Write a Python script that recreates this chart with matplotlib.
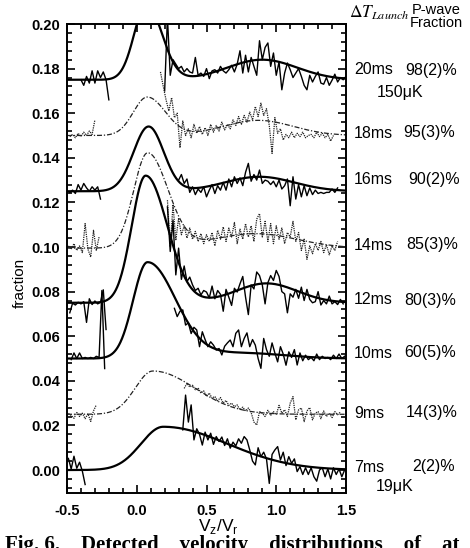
import numpy as np
import matplotlib
matplotlib.use('Agg')
import matplotlib.pyplot as plt
from matplotlib.ticker import MultipleLocator, FormatStrFormatter

# series order: top to bottom
launch = ['20ms', '18ms', '16ms', '14ms', '12ms', '10ms', '9ms', '7ms']
pwave = ['98(2)%', '95(3)%', '90(2)%', '85(3)%', '80(3)%', '60(5)%', '14(3)%', '2(2)%']
solid = [True, False, True, False, True, True, False, True]

# fit curves: baseline + s-wave peak (left/right width) + p-wave bump
fit_base = [0.175, 0.150, 0.125, 0.0995, 0.075, 0.050, 0.025, 0.0]
peak_amp = [0.034, 0.0172, 0.029, 0.0425, 0.057, 0.043, 0.0194, 0.0194]
peak_pos = [0.07, 0.075, 0.085, 0.078, 0.064, 0.077, 0.116, 0.19]
peak_wl = [0.088, 0.10, 0.108, 0.10, 0.10, 0.103, 0.127, 0.16]
peak_wr = [0.11, 0.13, 0.108, 0.145, 0.155, 0.20, 0.30, 0.46]
bump_amp = [0.009, 0.0068, 0.0065, 0.0065, 0.0087, 0.0025, 0.0, 0.0]
bump_pos = [0.90, 0.87, 0.88, 0.85, 0.93, 0.75, 0.90, 0.90]
bump_w = [0.25, 0.25, 0.25, 0.30, 0.22, 0.30, 0.30, 0.30]

# measured data, sampled every 0.02 from the given start
left_start = [-0.40, -0.48, -0.48, -0.49, -0.48, -0.47, -0.49, -0.49]
right_start = [0.20, 0.17, 0.30, 0.22, 0.22, 0.27, 0.34, 0.33]

d20_left = [0.175, 0.1725, 0.1765, 0.1735, 0.179, 0.1735, 0.179, 0.176, 0.1785, 0.175, 0.166]
d20_right = [0.170, 0.203, 0.177, 0.184, 0.182, 0.180, 0.181, 0.1785, 0.180, 0.1785, 0.178,
             0.185, 0.177, 0.178, 0.1765, 0.180, 0.1755, 0.179, 0.1795, 0.178, 0.181, 0.179,
             0.178, 0.1795, 0.1815, 0.1785, 0.182, 0.188, 0.178, 0.186, 0.1785, 0.185, 0.181,
             0.177, 0.1925, 0.184, 0.1895, 0.1915, 0.181, 0.187, 0.177, 0.183, 0.1705, 0.178,
             0.1825, 0.1795, 0.176, 0.178, 0.180, 0.1765, 0.1725, 0.1705, 0.177, 0.174, 0.1765,
             0.1785, 0.1735, 0.173, 0.176, 0.1725, 0.1748, 0.1775, 0.174, 0.176, 0.175, 0.1765]

d18_left = [0.1495, 0.1505, 0.149, 0.151, 0.1495, 0.1515, 0.150, 0.152, 0.1505, 0.157]
d18_right = [0.1785, 0.172, 0.166, 0.161, 0.167, 0.158, 0.160, 0.1445, 0.1565, 0.150, 0.153,
             0.149, 0.155, 0.151, 0.154, 0.1505, 0.1535, 0.150, 0.155, 0.1515, 0.1545, 0.152,
             0.156, 0.1525, 0.155, 0.153, 0.157, 0.1545, 0.1585, 0.155, 0.159, 0.156, 0.1605,
             0.157, 0.163, 0.1585, 0.1645, 0.159, 0.162, 0.1545, 0.142, 0.158, 0.151, 0.153,
             0.148, 0.1505, 0.149, 0.1515, 0.149, 0.151, 0.1495, 0.1515, 0.149, 0.150, 0.1505,
             0.149, 0.1515, 0.1495, 0.151, 0.149, 0.1505, 0.1475, 0.150]

d16_left = [0.1245, 0.1255, 0.124, 0.128, 0.1255, 0.1285, 0.1265, 0.125, 0.127, 0.1255,
            0.127, 0.1215]
d16_right = [0.130, 0.1325, 0.1285, 0.1305, 0.1245, 0.127, 0.1235, 0.126, 0.1245, 0.127,
             0.1225, 0.1255, 0.128, 0.124, 0.1275, 0.1255, 0.129, 0.1255, 0.1305, 0.127,
             0.1315, 0.1285, 0.131, 0.1275, 0.1335, 0.1375, 0.1295, 0.1325, 0.130, 0.1345,
             0.1285, 0.130, 0.1295, 0.128, 0.1295, 0.127, 0.130, 0.126, 0.1275, 0.1305,
             0.1185, 0.1315, 0.1215, 0.128, 0.1225, 0.1275, 0.123, 0.1265, 0.1235, 0.1255,
             0.124, 0.1245, 0.124, 0.1245, 0.1245, 0.126, 0.1245, 0.1265]

d14_left = [0.1005, 0.099, 0.1015, 0.0985, 0.1005, 0.0975, 0.1105, 0.099, 0.0955, 0.1075,
            0.0985, 0.1045]
d14_right = [0.121, 0.100, 0.119, 0.103, 0.113, 0.1055, 0.1095, 0.104, 0.1085, 0.1035, 0.107,
             0.1025, 0.106, 0.1015, 0.1055, 0.1025, 0.1065, 0.1005, 0.1075, 0.1035, 0.109,
             0.1025, 0.1085, 0.1045, 0.111, 0.1015, 0.108, 0.1035, 0.1105, 0.1045, 0.1095,
             0.1025, 0.1125, 0.115, 0.1045, 0.1115, 0.1025, 0.1105, 0.1015, 0.1095, 0.1035,
             0.1085, 0.1015, 0.1065, 0.1045, 0.1115, 0.1025, 0.1065, 0.0985, 0.1035, 0.0945,
             0.1005, 0.097, 0.1015, 0.0985, 0.1025, 0.0975, 0.101, 0.0965, 0.1005, 0.0985,
             0.1025]

d12_left = [0.0705, 0.0748, 0.074, 0.0752, 0.0745, 0.0755, 0.0662, 0.0768, 0.0742, 0.0758,
            0.0745, 0.0752, 0.0808, 0.063]
d12_right = [0.118, 0.098, 0.112, 0.0875, 0.0995, 0.0855, 0.0915, 0.0845, 0.0865, 0.083,
             0.0805, 0.0815, 0.0785, 0.0805, 0.0798, 0.0772, 0.0825, 0.0768, 0.0805, 0.0788,
             0.0712, 0.081, 0.0775, 0.0738, 0.0815, 0.0798, 0.0835, 0.0868, 0.0775, 0.0697,
             0.083, 0.0812, 0.0888, 0.0872, 0.083, 0.0745, 0.084, 0.0872, 0.085, 0.0895,
             0.0868, 0.08, 0.079, 0.0705, 0.079, 0.0775, 0.081, 0.077, 0.082, 0.076, 0.081,
             0.0765, 0.075, 0.0755, 0.08, 0.074, 0.076, 0.0745, 0.078, 0.0745, 0.0755, 0.0742,
             0.0765, 0.0745]

d10_left = [0.0495, 0.0525, 0.050, 0.0525, 0.050, 0.0505, 0.050, 0.0505, 0.050, 0.051,
            0.0505, 0.0805, 0.0455]
d10_right = [0.0725, 0.0688, 0.0712, 0.0718, 0.065, 0.066, 0.0612, 0.064, 0.0628, 0.0553,
             0.062, 0.0585, 0.0553, 0.0575, 0.056, 0.0538, 0.0545, 0.0516, 0.0555, 0.057,
             0.0583, 0.0553, 0.0613, 0.0628, 0.0553, 0.059, 0.0615, 0.0553, 0.0585, 0.056,
             0.050, 0.0456, 0.059, 0.054, 0.051, 0.057, 0.0525, 0.0485, 0.0553, 0.052, 0.047,
             0.053, 0.0505, 0.054, 0.0471, 0.0525, 0.049, 0.0515, 0.0495, 0.0505, 0.049, 0.052,
             0.0495, 0.051, 0.050, 0.0505, 0.0495, 0.0515, 0.050, 0.052, 0.050, 0.051]

d9_left = [0.0254, 0.0245, 0.0232, 0.0258, 0.024, 0.0255, 0.023, 0.0252, 0.0218, 0.0265,
           0.0292]
d9_right = [0.0366, 0.0389, 0.0372, 0.038, 0.036, 0.0368, 0.0345, 0.0355, 0.033, 0.0345,
            0.0322, 0.033, 0.031, 0.0325, 0.030, 0.0312, 0.029, 0.030, 0.0284, 0.0292, 0.027,
            0.0282, 0.0265, 0.0278, 0.0258, 0.0215, 0.0202, 0.0262, 0.0255, 0.024, 0.0268,
            0.0245, 0.0262, 0.0248, 0.029, 0.0255, 0.027, 0.024, 0.030, 0.0329, 0.0225, 0.027,
            0.0278, 0.0217, 0.0265, 0.028, 0.0225, 0.0255, 0.0262, 0.023, 0.0265, 0.024,
            0.0255, 0.0235, 0.0262, 0.0248, 0.026]

d7_left = [0.0052, 0.0005, 0.0062, 0.0008, 0.0035, -0.0005, -0.0065]
d7_right = [0.018, 0.0336, 0.0215, 0.0292, 0.0135, 0.0185, 0.016, 0.0112, 0.017, 0.0135,
            0.0165, 0.0115, 0.015, 0.0128, 0.0148, 0.011, 0.014, 0.0098, 0.0125, 0.0108,
            0.014, 0.012, 0.015, 0.0135, 0.009, 0.004, 0.0023, 0.010, 0.006, 0.008, 0.005,
            -0.006, 0.007, 0.009, 0.0105, 0.0045, 0.008, 0.002, 0.006, 0.003, 0.005, -0.0007,
            0.0015, -0.002, 0.001, -0.002, 0.001, -0.003, -0.005, 0.0, 0.001, -0.003, 0.0005,
            -0.004, 0.001, -0.002, 0.0005, -0.003, 0.0]

left_data = [d20_left, d18_left, d16_left, d14_left, d12_left, d10_left, d9_left, d7_left]
right_data = [d20_right, d18_right, d16_right, d14_right, d12_right, d10_right, d9_right, d7_right]

STEP = 0.02


def grid(start, vals):
    return start + STEP * np.arange(len(vals))


def fit_curve(x, i):
    w = np.where(x < peak_pos[i], peak_wl[i], peak_wr[i])
    y = fit_base[i] + peak_amp[i] * np.exp(-(x - peak_pos[i]) ** 2 / (2 * w ** 2))
    y += bump_amp[i] * np.exp(-(x - bump_pos[i]) ** 2 / (2 * bump_w[i] ** 2))
    return y


W, H = 470, 548
fig = plt.figure(figsize=(W / 100, H / 100), dpi=100)
ax = fig.add_axes([67 / W, 1 - 493 / H, (346 - 67) / W, (493 - 24) / H])

xs = np.linspace(-0.5, 1.5, 801)
for i in range(len(launch)):
    if solid[i]:
        fit_style = dict(color='black', lw=1.6, ls='-')
        data_style = dict(color='black', lw=1.0, ls='-')
    else:
        fit_style = dict(color='#222222', lw=0.9, ls=(0, (4, 1.5, 1, 1.5)))
        data_style = dict(color='#222222', lw=0.9, ls=(0, (1, 0.8)))
    ax.plot(xs, fit_curve(xs, i), **fit_style)
    ax.plot(grid(left_start[i], left_data[i]), left_data[i], **data_style)
    ax.plot(grid(right_start[i], right_data[i]), right_data[i], **data_style)

ax.set_xlim(-0.5, 1.5)
ax.set_ylim(-0.0103, 0.20)
ax.xaxis.set_major_locator(MultipleLocator(0.5))
ax.xaxis.set_minor_locator(MultipleLocator(0.1))
ax.yaxis.set_major_locator(MultipleLocator(0.02))
ax.yaxis.set_minor_locator(MultipleLocator(0.004))
ax.xaxis.set_major_formatter(FormatStrFormatter('%.1f'))
ax.yaxis.set_major_formatter(FormatStrFormatter('%.2f'))
ax.tick_params(which='both', direction='in', top=True, right=True, width=1.2)
ax.tick_params(which='major', length=6)
ax.tick_params(which='minor', length=3.5)
ax.tick_params(axis='x', pad=8)
ax.tick_params(axis='y', pad=5)
for lab in ax.get_xticklabels() + ax.get_yticklabels():
    lab.set_fontfamily('Liberation Sans')
    lab.set_fontweight('bold')
    lab.set_fontsize(10.5)
for sp in ax.spines.values():
    sp.set_linewidth(1.4)


def px(x, y):
    return x / W, 1 - y / H


fig.text(*px(20, 283), 'fraction', rotation=90, ha='center', va='center',
         fontfamily='Liberation Sans', fontsize=11)
fig.text(*px(218, 527), r'V$_\mathregular{z}$/V$_\mathregular{r}$', ha='center', va='center',
         fontfamily='Liberation Sans', fontsize=12.5)

# right-hand annotations
RFONT = 'Liberation Sans'
ms_y = [70, 133, 180, 245, 300, 353, 413, 467]
pct_cx = [431, 429, 434, 432, 430, 430, 432, 434]
for i in range(len(launch)):
    fig.text(*px(354, ms_y[i]), launch[i], ha='left', va='center',
             fontfamily=RFONT, fontsize=11.5)
    fig.text(*px(pct_cx[i], ms_y[i]), pwave[i], ha='center', va='center',
             fontfamily=RFONT, fontsize=11.5)
fig.text(*px(400, 92), '150\u03bcK', ha='center', va='center', fontfamily=RFONT, fontsize=11.5)
fig.text(*px(395, 487), '19\u03bcK', ha='center', va='center', fontfamily=RFONT, fontsize=11.5)

fig.text(*px(349, 13), r'$\Delta T_{Launch}$', ha='left', va='center',
         fontsize=12.5, math_fontfamily='stix')
fig.text(*px(436, 10), 'P-wave', ha='center', va='center', fontfamily=RFONT, fontsize=10.5)
fig.text(*px(436, 23), 'Fraction', ha='center', va='center', fontfamily=RFONT, fontsize=10.5)

fig.text(*px(5, 535), 'Fig. 6.    Detected    velocity    distributions    of    at', ha='left',
         va='top', fontfamily='Liberation Serif', fontweight='bold', fontsize=15)

fig.savefig('out.png', dpi=100)
